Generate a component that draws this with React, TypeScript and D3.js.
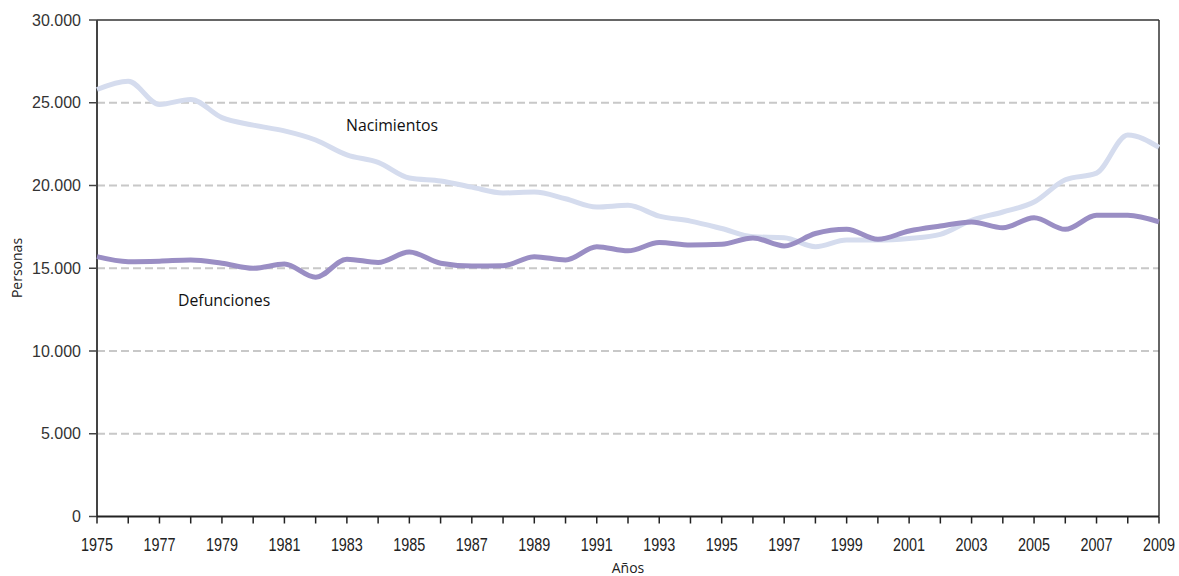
import React from "react";
import * as d3 from "d3";

const years = d3.range(1975, 2010);
const nacimientos = [
  25800, 26300, 24900, 25200, 24100, 23650, 23300, 22750, 21850, 21400,
  20450, 20270, 19900, 19550, 19600, 19200, 18700, 18800, 18150, 17850,
  17400, 16900, 16850, 16300, 16700, 16700, 16800, 17050, 17900, 18400,
  19000, 20350, 20750, 23050, 22300,
];
const defunciones = [
  15700, 15400, 15430, 15500, 15300, 15000, 15250, 14450, 15550, 15350,
  15980, 15300, 15130, 15150, 15700, 15500, 16300, 16050, 16550, 16400,
  16450, 16830, 16350, 17100, 17350, 16750, 17250, 17550, 17800, 17450,
  18050, 17350, 18200, 18200, 17800,
];
const yTicks = [0, 5000, 10000, 15000, 20000, 25000, 30000];
const xLabelYears = d3.range(1975, 2010, 2);

const W = 1179;
const H = 576;
const left = 97;
const right = 1159;
const top = 20;
const bottom = 516.5;

export default function App() {
  const x = d3.scaleLinear().domain([1975, 2009]).range([left, right]);
  const y = d3.scaleLinear().domain([0, 30000]).range([bottom, top]);
  const fmt = (v: number) =>
    v === 0 ? "0" : d3.format(",")(v).replace(/,/g, ".");
  const line = d3
    .line<number>()
    .x((_, i) => x(years[i]))
    .y((d) => y(d))
    .curve(d3.curveMonotoneX);

  return (
    <svg
      width={W}
      height={H}
      style={{ position: "absolute", left: 0, top: 0, background: "#fff" }}
    >
      {yTicks
        .filter((t) => t > 0 && t < 30000)
        .map((t) => (
          <line
            key={"g" + t}
            x1={left}
            x2={right}
            y1={y(t)}
            y2={y(t)}
            stroke="#c8c8c8"
            strokeWidth={2}
            strokeDasharray="8 4"
          />
        ))}
      <line x1={left} x2={right} y1={top} y2={top} stroke="#333" strokeWidth={1.5} />
      <line x1={right} x2={right} y1={top} y2={bottom} stroke="#333" strokeWidth={1.5} />
      <line x1={left} x2={left} y1={top} y2={bottom} stroke="#444" strokeWidth={2} />
      <line x1={left} x2={right} y1={bottom} y2={bottom} stroke="#222" strokeWidth={2} />
      {yTicks.map((t) => (
        <g key={"y" + t}>
          <line x1={left - 8} x2={left} y1={y(t)} y2={y(t)} stroke="#444" strokeWidth={1.5} />
          <text
            x={left - 16}
            y={y(t)}
            dy="0.35em"
            textAnchor="end"
            fontFamily="'Liberation Sans', Arial, sans-serif"
            fontSize={16}
            fill="#333"
          >
            {fmt(t)}
          </text>
        </g>
      ))}
      {years.map((yr) => (
        <line
          key={"xt" + yr}
          x1={x(yr)}
          x2={x(yr)}
          y1={bottom}
          y2={bottom + 7}
          stroke="#222"
          strokeWidth={1.5}
        />
      ))}
      {xLabelYears.map((yr) => (
        <text
          key={"xl" + yr}
          x={x(yr)}
          y={551}
          textAnchor="middle"
          fontFamily="'Liberation Sans', Arial, sans-serif"
          fontSize={17.5}
          textLength={32}
          lengthAdjust="spacingAndGlyphs"
          fill="#222"
        >
          {yr}
        </text>
      ))}
      <text
        x={628}
        y={573}
        textAnchor="middle"
        fontFamily="'Open Sans', sans-serif"
        fontSize={14}
        fill="#222"
      >
        Años
      </text>
      <text
        transform={`translate(22, ${268}) rotate(-90)`}
        textAnchor="middle"
        fontFamily="'Open Sans', sans-serif"
        fontSize={14}
        fill="#222"
      >
        Personas
      </text>
      <path d={line(nacimientos) || ""} fill="none" stroke="#d5dcee" strokeWidth={5} />
      <path d={line(defunciones) || ""} fill="none" stroke="#9a8ec4" strokeWidth={5} />
      <text
        x={346}
        y={131}
        fontFamily="'Open Sans', sans-serif"
        fontSize={15.8}
        fill="#111"
      >
        Nacimientos
      </text>
      <text
        x={178}
        y={306}
        fontFamily="'Open Sans', sans-serif"
        fontSize={15.8}
        fill="#111"
      >
        Defunciones
      </text>
    </svg>
  );
}
